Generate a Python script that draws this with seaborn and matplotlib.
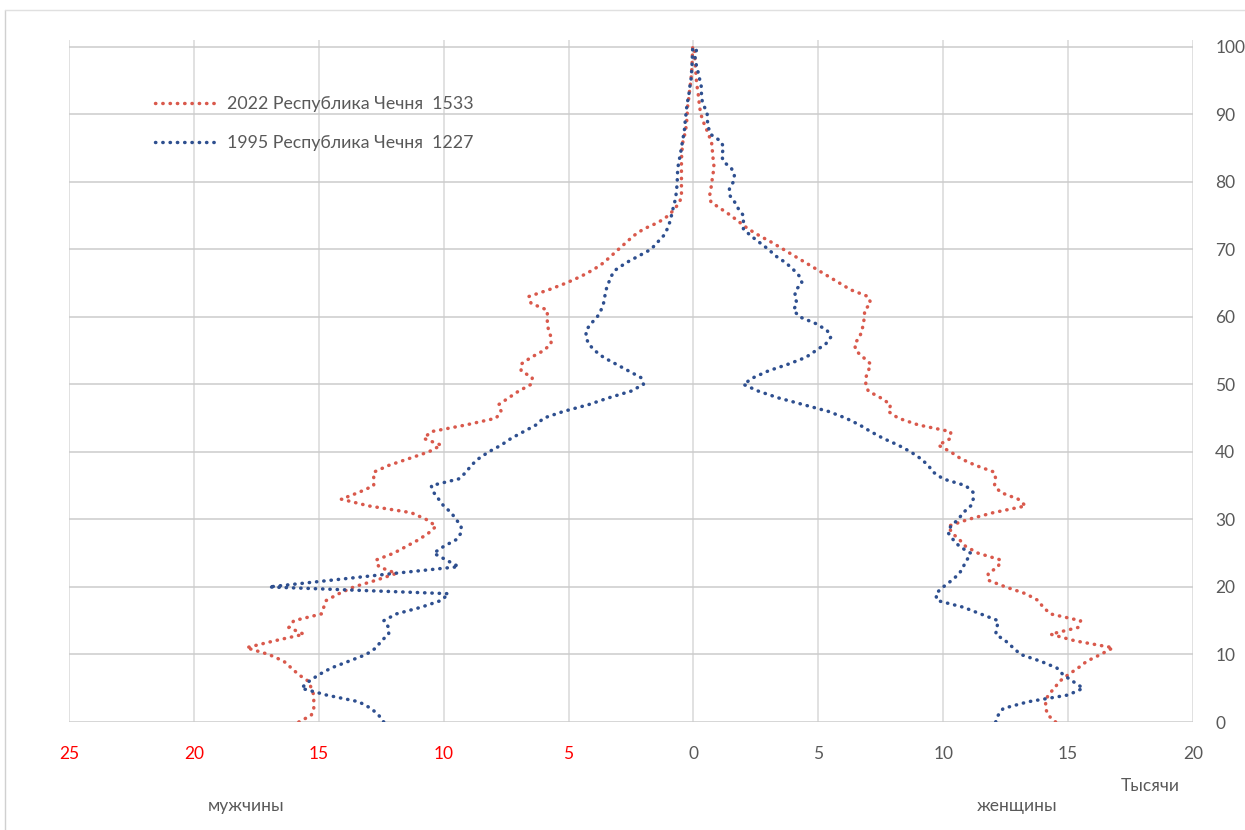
import numpy as np
import pandas as pd
import matplotlib
matplotlib.use("Agg")
import matplotlib.pyplot as plt
from matplotlib.lines import Line2D
import seaborn as sns

# ==========================
# Data (thousands of people by single year of age)
# ==========================

ages = list(range(0, 101))

male_2022 = [15.8, 15.3, 15.2, 15.2, 15.2, 15.3, 15.4, 15.8, 16.1, 16.4,
             17.0, 17.9, 16.8, 15.6, 16.2, 16.0, 14.9, 14.8, 14.7, 14.2,
             13.6, 12.7, 11.9, 12.6, 12.7, 12.0, 11.5, 11.0, 10.6, 10.3,
             10.7, 11.3, 13.0, 14.1, 13.4, 12.8, 12.8, 12.8, 12.2, 11.4,
             10.6, 10.1, 10.8, 10.5, 9.1, 7.9, 7.7, 7.8, 7.4, 7.0,
             6.5, 6.45, 6.9, 6.9, 6.5, 6.0, 5.7, 5.7, 5.8, 5.85,
             5.85, 5.85, 6.5, 6.6, 5.8, 5.1, 4.5, 4.0, 3.6, 3.3,
             3.0, 2.7, 2.4, 2.0, 1.4, 1.0, 0.75, 0.55, 0.48, 0.48,
             0.48, 0.48, 0.48, 0.48, 0.47, 0.45, 0.42, 0.35, 0.3, 0.27,
             0.25, 0.24, 0.2, 0.17, 0.14, 0.1, 0.08, 0.06, 0.05, 0.04,
             0.03]

female_2022 = [14.5, 14.2, 14.1, 14.1, 14.2, 14.45, 14.65, 15.0, 15.4, 15.75,
               16.3, 16.8, 15.3, 14.3, 15.4, 15.5, 14.3, 14.0, 13.8, 13.3,
               12.5, 11.8, 11.8, 12.2, 12.3, 11.4, 10.9, 10.65, 10.35, 10.2,
               11.0, 12.0, 13.3, 13.0, 12.3, 12.05, 12.1, 12.05, 11.3, 10.7,
               10.3, 9.8, 10.3, 10.3, 9.0, 8.2, 7.8, 7.9, 7.5, 7.0,
               6.9, 6.9, 7.0, 7.1, 6.8, 6.5, 6.45, 6.65, 6.75, 6.8,
               6.85, 6.85, 7.1, 7.0, 6.3, 5.85, 5.4, 4.95, 4.5, 4.05,
               3.6, 3.15, 2.65, 2.2, 1.85, 1.5, 1.1, 0.7, 0.65, 0.7,
               0.74, 0.77, 0.83, 0.8, 0.77, 0.75, 0.72, 0.6, 0.5, 0.38,
               0.3, 0.25, 0.22, 0.19, 0.15, 0.12, 0.1, 0.08, 0.06, 0.05,
               0.04]

male_1995 = [12.4, 12.6, 12.9, 13.4, 14.7, 15.7, 15.4, 15.0, 14.5, 13.8,
             13.1, 12.7, 12.5, 12.2, 12.2, 12.4, 11.9, 10.9, 10.1, 9.8,
             17.0, 14.5, 12.0, 9.4, 9.9, 10.4, 10.0, 9.5, 9.3, 9.3,
             9.5, 9.7, 10.0, 10.2, 10.4, 10.5, 9.4, 9.1, 8.9, 8.6,
             8.2, 7.7, 7.3, 6.8, 6.3, 6.0, 5.2, 4.2, 3.4, 2.5,
             2.0, 2.1, 2.6, 3.1, 3.6, 3.95, 4.2, 4.3, 4.3, 4.1,
             3.85, 3.7, 3.6, 3.55, 3.5, 3.4, 3.3, 3.1, 2.7, 2.2,
             1.7, 1.45, 1.2, 1.05, 0.95, 0.88, 0.82, 0.75, 0.7, 0.67,
             0.65, 0.64, 0.63, 0.58, 0.53, 0.48, 0.44, 0.39, 0.35, 0.33,
             0.3, 0.27, 0.23, 0.18, 0.15, 0.1, 0.08, 0.06, 0.05, 0.04,
             0.03]

female_1995 = [12.1, 12.2, 12.4, 13.4, 15.0, 15.6, 15.2, 14.8, 14.55, 13.9,
               13.1, 12.8, 12.5, 12.1, 12.15, 12.2, 11.5, 10.8, 9.75, 9.7,
               10.0, 10.35, 10.65, 10.8, 10.95, 11.1, 10.65, 10.4, 10.2, 10.3,
               10.6, 10.8, 11.1, 11.2, 11.2, 10.9, 10.0, 9.6, 9.4, 9.1,
               8.7, 8.2, 7.6, 7.1, 6.65, 6.1, 5.4, 4.4, 3.4, 2.6,
               2.0, 2.4, 3.0, 3.8, 4.5, 4.9, 5.3, 5.5, 5.35, 4.9,
               4.25, 4.0, 4.15, 4.05, 4.1, 4.35, 4.25, 4.0, 3.7, 3.3,
               3.0, 2.65, 2.3, 2.0, 2.0, 2.0, 1.8, 1.65, 1.45, 1.44,
               1.6, 1.64, 1.52, 1.2, 1.12, 1.22, 1.1, 0.7, 0.6, 0.56,
               0.55, 0.45, 0.35, 0.32, 0.32, 0.26, 0.2, 0.14, 0.06, 0.08,
               0.16]

label_2022 = "2022 Республика Чечня  1533"
label_1995 = "1995 Республика Чечня  1227"

x_ticks = [-25, -20, -15, -10, -5, 0, 5, 10, 15, 20]
y_ticks = list(range(0, 101, 10))

# ==========================
# Long table for seaborn (men on the negative side)
# ==========================

parts = []
for label, side, vals, sign in [
    (label_2022, "m", male_2022, -1),
    (label_2022, "f", female_2022, 1),
    (label_1995, "m", male_1995, -1),
    (label_1995, "f", female_1995, 1),
]:
    parts.append(pd.DataFrame({
        "value": [sign * v for v in vals],
        "age": ages,
        "series": label,
        "side": side,
    }))
df = pd.concat(parts, ignore_index=True)

RED = "#D9594C"
BLUE = "#2E4F8F"
GRAY = "#595959"
palette = {label_2022: RED, label_1995: BLUE}

# ==========================
# Plot
# ==========================

sns.set_style("white")
plt.rcParams["font.family"] = ["Lato", "DejaVu Sans"]

fig = plt.figure(figsize=(12.45, 8.3), dpi=100)
ax = fig.add_axes([69 / 1245, 1 - 722 / 830, 1124 / 1245, 682 / 830])

LW = 2.5
sns.lineplot(data=df, x="value", y="age", hue="series", units="side",
             estimator=None, sort=False, palette=palette, linewidth=LW,
             legend=False, ax=ax)

dot = (0, (0.1, 2.0))
for line in ax.get_lines():
    line.set_linestyle(dot)
    line.set_dash_capstyle("round")

ax.set_xlim(-25, 20)
ax.set_ylim(0, 101)
ax.set_xticks(x_ticks)
ax.set_xticklabels([str(abs(t)) for t in x_ticks])
for t, lbl in zip(x_ticks, ax.get_xticklabels()):
    lbl.set_color("#FF0000" if t < 0 else GRAY)
ax.set_yticks(y_ticks)
ax.yaxis.tick_right()
ax.tick_params(axis="x", length=0, pad=17, labelsize=12.5)
ax.tick_params(axis="y", length=0, pad=16, labelsize=12.5, labelcolor=GRAY)
ax.set_xlabel("")
ax.set_ylabel("")

ax.grid(True, axis="x", color="#D9D9D9", linewidth=1.1)
ax.grid(True, axis="y", color="#CBCBCB", linewidth=1.1)
ax.set_axisbelow(True)
for s in ax.spines.values():
    s.set_visible(False)

handles = [Line2D([0], [0], color=RED, lw=LW, linestyle=dot, dash_capstyle="round"),
           Line2D([0], [0], color=BLUE, lw=LW, linestyle=dot, dash_capstyle="round")]
leg = ax.legend(handles, [label_2022, label_1995], loc="upper left",
                bbox_to_anchor=(0.0765, 0.918), frameon=False, fontsize=12.8,
                handlelength=3.5, handletextpad=0.55, labelspacing=1.3,
                borderpad=0, borderaxespad=0)
for txt in leg.get_texts():
    txt.set_color(GRAY)

fig.text(1150 / 1245, 1 - 786 / 830, "Тысячи", ha="center", va="center",
         fontsize=12.5, color=GRAY)
fig.text(246 / 1245, 1 - 806 / 830, "мужчины", ha="center", va="center",
         fontsize=12.5, color=GRAY)
fig.text(1017 / 1245, 1 - 806 / 830, "женщины", ha="center", va="center",
         fontsize=12.5, color=GRAY)

# thin frame of the chart area
fig.add_artist(Line2D([5 / 1245, 5 / 1245], [0, 1 - 10 / 830], color="#D0D0D0",
                      lw=1, transform=fig.transFigure))
fig.add_artist(Line2D([5 / 1245, 1], [1 - 10 / 830, 1 - 10 / 830], color="#E0E0E0",
                      lw=1, transform=fig.transFigure))

fig.savefig("out.png", dpi=100, facecolor="white")
